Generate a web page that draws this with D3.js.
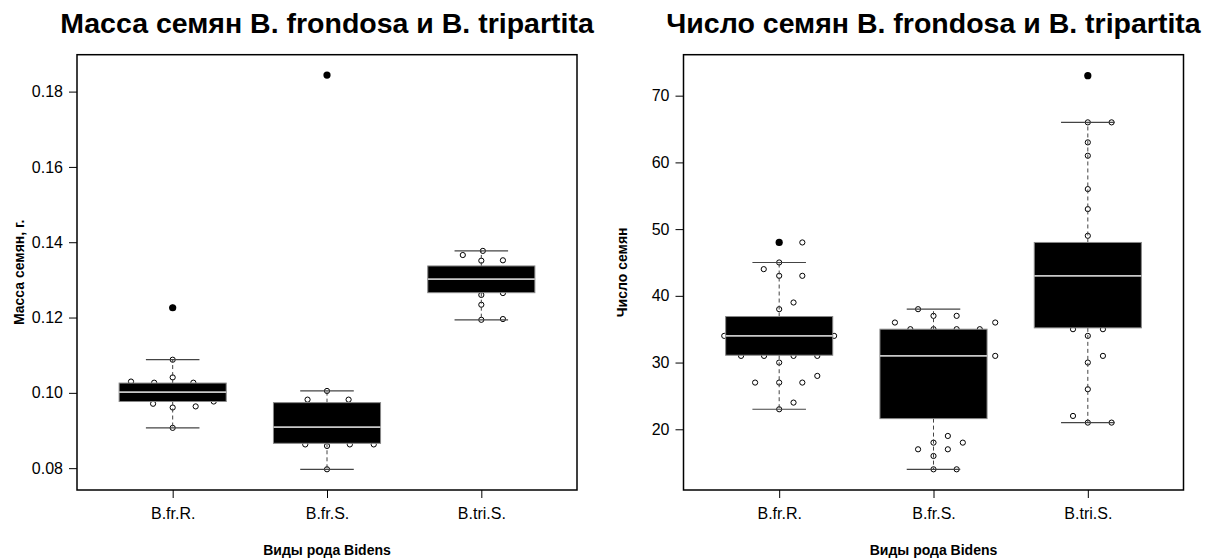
<!DOCTYPE html>
<html>
<head>
<meta charset="utf-8">
<script src="https://cdn.jsdelivr.net/npm/d3@7"></script>
<style>
  html, body { margin: 0; padding: 0; background: #fff; }
  svg { display: block; font-family: "Liberation Sans", Arial, sans-serif; }
</style>
</head>
<body>
<svg id="chart" width="1215" height="560"></svg>
<script>
// ---------- DATA ----------
const categories = ["B.fr.R.", "B.fr.S.", "B.tri.S."];

// Panel 1: seed mass (g)
const massTitle = "Масса семян B. frondosa и B. tripartita";
const massYLabel = "Масса семян, г.";
const massTicks = [0.08, 0.10, 0.12, 0.14, 0.16, 0.18];
const massWhiskerLow  = [0.0907, 0.0797, 0.1194];
const massQ1          = [0.0977, 0.0866, 0.1266];
const massMedian      = [0.1002, 0.0909, 0.1302];
const massQ3          = [0.1026, 0.0974, 0.1337];
const massWhiskerHigh = [0.1088, 0.1005, 0.1377];
const massOutliers    = [[0.1226], [0.1844], []];
const massPoints = [
  [0.1226, 0.1088, 0.1041, 0.1030, 0.1027, 0.1027, 0.0971, 0.0977, 0.0964, 0.0961, 0.0907],
  [0.1844, 0.1005, 0.0982, 0.0982, 0.0863, 0.0859, 0.0863, 0.0863, 0.0797],
  [0.1377, 0.1366, 0.1351, 0.1352, 0.1260, 0.1265, 0.1234, 0.1194, 0.1196]
];
const massJitter = [
  [0, 0, 0, -0.27, -0.12, 0.134, -0.127, 0.266, 0.149, 0, 0],
  [0, 0, -0.126, 0.14, -0.141, 0, 0.148, 0.303, 0],
  [0.01, -0.12, 0, 0.14, 0, 0.14, 0, 0, 0.14]
];

// Panel 2: seed count
const countTitle = "Число семян B. frondosa и B. tripartita";
const countYLabel = "Число семян";
const countTicks = [20, 30, 40, 50, 60, 70];
const countWhiskerLow  = [23, 14, 21];
const countQ1          = [31.1, 21.6, 35.2];
const countMedian      = [34, 31, 43];
const countQ3          = [36.9, 35, 48];
const countWhiskerHigh = [45, 38, 66];
const countOutliers    = [[48], [], [73]];
const countPoints = [
  [48, 48, 45, 44, 43, 43, 39, 38, 34, 34, 31, 31, 31, 31, 30, 28, 27, 27, 27, 24, 23],
  [38, 37, 37, 36, 36, 35, 35, 35, 35, 31, 19, 18, 18, 17, 17, 16, 14, 14],
  [73, 66, 66, 63, 61, 56, 53, 49, 35, 35, 34, 31, 30, 26, 22, 21, 21]
];
const countJitter = [
  [0, 0.15, 0, -0.1, 0, 0.15, 0.093, 0, -0.356, 0.356, -0.247, -0.098, 0.093, 0.247, 0, 0.247, -0.156, 0, 0.15, 0.093, 0],
  [-0.1, 0, 0.15, -0.25, 0.4, -0.15, 0, 0.15, 0.3, 0.4, 0.093, 0, 0.19, -0.1, 0.093, 0, 0, 0.15],
  [0, 0, 0.154, 0, 0, 0, 0, 0, -0.096, 0.098, 0, 0.098, 0, 0, -0.096, 0, 0.154]
];

const xTitle = "Виды рода Bidens";

// ---------- DRAWING ----------
const svg = d3.select("#chart");

function panel(opts) {
  const { left, right, top, bottom, yDomain } = opts;
  const g = svg.append("g");
  const x = d3.scaleLinear().domain([0.38, 3.62]).range([left, right]);
  const y = d3.scaleLinear().domain(yDomain).range([bottom, top]);
  const boxHalf = 0.347;
  const capHalf = 0.1735;

  opts.points.forEach((vals, i) => {
    g.selectAll(null).data(vals.map((v, k) => ({ v, j: opts.jitter[i][k] })))
      .enter().append("circle")
      .attr("cx", d => x(i + 1 + d.j))
      .attr("cy", d => y(d.v))
      .attr("r", 2.6)
      .attr("fill", "none")
      .attr("stroke", "#000")
      .attr("stroke-width", 1);
  });

  categories.forEach((c, i) => {
    const cx = x(i + 1);
    g.append("line").attr("x1", cx).attr("x2", cx)
      .attr("y1", y(opts.q3[i])).attr("y2", y(opts.wHigh[i]))
      .attr("stroke", "#444").attr("stroke-width", 1).attr("stroke-dasharray", "4,3");
    g.append("line").attr("x1", cx).attr("x2", cx)
      .attr("y1", y(opts.q1[i])).attr("y2", y(opts.wLow[i]))
      .attr("stroke", "#444").attr("stroke-width", 1).attr("stroke-dasharray", "4,3");
    [opts.wHigh[i], opts.wLow[i]].forEach(w => {
      g.append("line").attr("x1", x(i + 1 - capHalf)).attr("x2", x(i + 1 + capHalf))
        .attr("y1", y(w)).attr("y2", y(w))
        .attr("stroke", "#444").attr("stroke-width", 1.2);
    });
    g.append("rect")
      .attr("x", x(i + 1 - boxHalf))
      .attr("width", x(i + 1 + boxHalf) - x(i + 1 - boxHalf))
      .attr("y", y(opts.q3[i]))
      .attr("height", y(opts.q1[i]) - y(opts.q3[i]))
      .attr("fill", "#000").attr("stroke", "#888").attr("stroke-width", 1);
    g.append("line").attr("x1", x(i + 1 - boxHalf)).attr("x2", x(i + 1 + boxHalf))
      .attr("y1", y(opts.median[i])).attr("y2", y(opts.median[i]))
      .attr("stroke", "#c8c8c8").attr("stroke-width", 1.8);
    opts.outliers[i].forEach(o => {
      g.append("circle").attr("cx", cx).attr("cy", y(o)).attr("r", 3.6).attr("fill", "#000");
    });
  });

  g.append("rect").attr("x", left).attr("y", top)
    .attr("width", right - left).attr("height", bottom - top)
    .attr("fill", "none").attr("stroke", "#000").attr("stroke-width", 1.5);

  const yAxis = d3.axisLeft(y).tickValues(opts.ticks).tickSize(8).tickPadding(6)
    .tickFormat(opts.fmt);
  const ya = g.append("g").attr("transform", `translate(${left},0)`).call(yAxis);
  ya.select(".domain").remove();
  ya.selectAll("text").attr("font-size", 16).attr("fill", "#000")
    .attr("font-family", "Liberation Sans, Arial, sans-serif");
  ya.selectAll("line").attr("stroke", "#000");

  const xAxis = d3.axisBottom(x).tickValues([1, 2, 3]).tickSize(8).tickPadding(10)
    .tickFormat((d, i) => categories[i]);
  const xa = g.append("g").attr("transform", `translate(0,${bottom})`).call(xAxis);
  xa.select(".domain").remove();
  xa.selectAll("text").attr("font-size", 16).attr("fill", "#000")
    .attr("font-family", "Liberation Sans, Arial, sans-serif");
  xa.selectAll("line").attr("stroke", "#000");

  g.append("text").attr("x", (left + right) / 2).attr("y", 33)
    .attr("text-anchor", "middle").attr("font-size", 28.5).attr("font-weight", "bold")
    .text(opts.title);
  g.append("text").attr("x", (left + right) / 2).attr("y", 555)
    .attr("text-anchor", "middle").attr("font-size", 14).attr("font-weight", "bold")
    .text(xTitle);
  g.append("text")
    .attr("transform", `translate(${opts.ylabX},${(top + bottom) / 2}) rotate(-90)`)
    .attr("text-anchor", "middle").attr("dominant-baseline", "middle")
    .attr("font-size", 14).attr("font-weight", "bold")
    .text(opts.ylab);
}

panel({
  left: 77, right: 577, top: 54.7, bottom: 490,
  yDomain: [0.0742, 0.1898], ticks: massTicks, fmt: d3.format(".2f"),
  points: massPoints, jitter: massJitter,
  wLow: massWhiskerLow, q1: massQ1, median: massMedian, q3: massQ3, wHigh: massWhiskerHigh,
  outliers: massOutliers, title: massTitle, ylab: massYLabel, ylabX: 20
});

panel({
  left: 683.5, right: 1183.5, top: 54.7, bottom: 490,
  yDomain: [10.9, 76.14], ticks: countTicks, fmt: d3.format("d"),
  points: countPoints, jitter: countJitter,
  wLow: countWhiskerLow, q1: countQ1, median: countMedian, q3: countQ3, wHigh: countWhiskerHigh,
  outliers: countOutliers, title: countTitle, ylab: countYLabel, ylabX: 623
});
</script>
</body>
</html>
